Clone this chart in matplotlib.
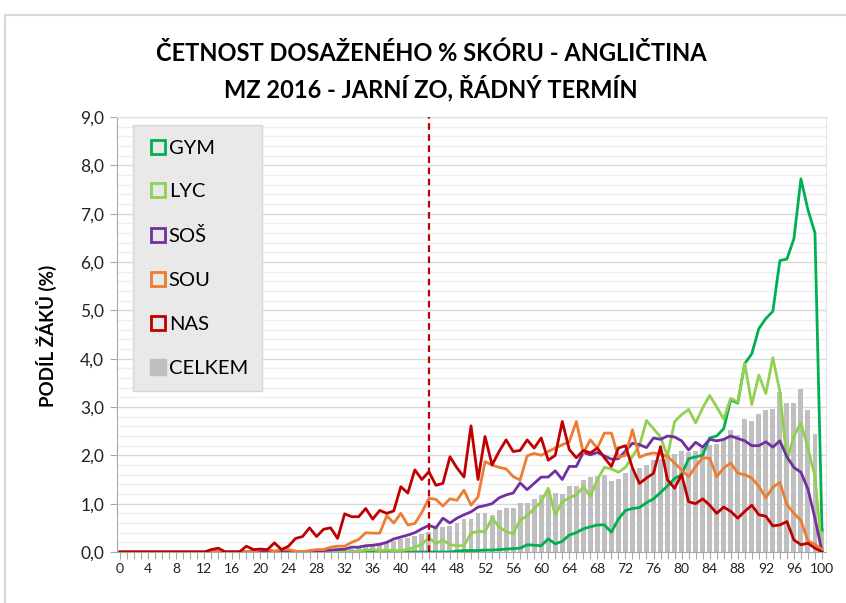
import numpy as np
from matplotlib import pyplot as plt
from matplotlib.lines import Line2D
from matplotlib.patches import Rectangle
from matplotlib.ticker import FuncFormatter, MultipleLocator

plt.rcParams['font.family'] = ['Lato', 'DejaVu Sans']

# skóre v % (0..100)
skore = list(range(0, 101))

# podíl žáků v % pro jednotlivé typy škol
gym = [0] * 48 + [
    0.02, 0.03, 0.03, 0.03, 0.04, 0.04, 0.05, 0.06, 0.07, 0.08,
    0.15, 0.14, 0.13, 0.27, 0.17, 0.22, 0.35, 0.40, 0.48, 0.52,
    0.56, 0.56, 0.41, 0.68, 0.86, 0.90, 0.92, 1.02, 1.10, 1.23,
    1.37, 1.52, 1.60, 1.93, 1.97, 2.00, 2.36, 2.40, 2.55, 3.15,
    3.08, 3.90, 4.10, 4.62, 4.83, 4.98, 6.03, 6.06, 6.48, 7.72,
    7.08, 6.60, 0.45]
lyc = [0] * 34 + [
    0.02, 0.04, 0.05, 0.03, 0.04, 0.03, 0.03, 0.05, 0.10, 0.16,
    0.30, 0.17, 0.25, 0.15, 0.13, 0.13, 0.39, 0.43, 0.42, 0.70,
    0.52, 0.42, 0.38, 0.66, 0.75, 0.90, 1.04, 1.32, 0.76, 1.04,
    1.12, 1.18, 1.35, 1.15, 1.50, 1.75, 1.72, 1.65, 1.75, 1.98,
    2.20, 2.72, 2.55, 2.38, 1.98, 2.70, 2.84, 2.95, 2.67, 2.98,
    3.24, 3.00, 2.75, 3.18, 3.10, 3.90, 3.05, 3.66, 3.28, 4.02,
    3.32, 1.88, 2.40, 2.67, 2.15, 1.56, 0.00]
sos = [0] * 28 + [
    0.02, 0.03, 0.04, 0.05, 0.06, 0.10, 0.10, 0.13, 0.14, 0.16,
    0.20, 0.27, 0.31, 0.35, 0.40, 0.48, 0.55, 0.50, 0.70, 0.60,
    0.70, 0.77, 0.83, 0.93, 0.96, 1.00, 1.12, 1.18, 1.22, 1.43,
    1.29, 1.42, 1.55, 1.55, 1.68, 1.50, 1.77, 1.77, 2.06, 2.01,
    2.06, 1.99, 1.92, 1.93, 2.09, 2.25, 2.22, 2.16, 2.36, 2.33,
    2.40, 2.38, 2.30, 2.11, 2.27, 2.17, 2.33, 2.30, 2.33, 2.40,
    2.35, 2.30, 2.20, 2.20, 2.28, 2.17, 2.30, 1.97, 1.75, 1.65,
    1.30, 0.70, 0.00]
sou = [0] * 20 + [
    0.05, 0.05, 0.02, 0.05, 0.05, 0.02, 0.00, 0.03, 0.05, 0.05,
    0.10, 0.12, 0.12, 0.20, 0.26, 0.40, 0.39, 0.39, 0.75, 0.60,
    0.80, 0.56, 0.59, 0.82, 1.11, 1.09, 0.95, 1.10, 1.07, 1.28,
    0.97, 1.14, 1.87, 1.80, 1.75, 1.72, 1.56, 1.49, 1.99, 2.04,
    2.00, 2.08, 2.15, 2.22, 2.28, 2.70, 2.05, 2.32, 2.15, 2.46,
    2.46, 1.96, 2.00, 2.53, 1.96, 2.02, 2.05, 2.02, 1.98, 1.84,
    1.70, 1.56, 1.77, 1.95, 1.94, 1.56, 1.74, 1.84, 1.63, 1.60,
    1.53, 1.36, 1.12, 1.34, 1.44, 0.98, 0.80, 0.65, 0.23, 0.16,
    0.05]
nas = [0] * 13 + [
    0.05, 0.08, 0.00, 0.00, 0.00, 0.12, 0.05, 0.06, 0.05, 0.19,
    0.05, 0.12, 0.28, 0.32, 0.50, 0.32, 0.47, 0.50, 0.28, 0.79,
    0.73, 0.73, 0.90, 0.68, 0.86, 0.80, 0.85, 1.35, 1.22, 1.70,
    1.50, 1.66, 1.38, 1.42, 1.97, 1.74, 1.55, 2.61, 1.50, 2.39,
    1.80, 2.08, 2.32, 2.08, 2.10, 2.32, 2.15, 2.36, 1.90, 2.00,
    2.70, 2.12, 1.95, 2.10, 2.05, 2.15, 1.95, 1.77, 2.15, 2.20,
    1.74, 1.42, 1.53, 1.63, 2.18, 1.49, 1.32, 1.60, 1.04, 1.00,
    1.10, 0.97, 0.80, 0.93, 0.84, 0.70, 0.84, 0.97, 0.77, 0.74,
    0.54, 0.56, 0.63, 0.25, 0.15, 0.18, 0.08, 0.00]
celkem = [0] * 30 + [
    0.02, 0.03, 0.04, 0.06, 0.08, 0.10, 0.13, 0.15, 0.19, 0.22,
    0.26, 0.29, 0.33, 0.38, 0.42, 0.54, 0.52, 0.53, 0.60, 0.68,
    0.68, 0.80, 0.80, 0.77, 0.87, 0.92, 0.91, 1.01, 1.01, 1.09,
    1.18, 1.28, 1.23, 1.20, 1.36, 1.36, 1.50, 1.55, 1.58, 1.60,
    1.47, 1.52, 1.64, 1.72, 1.74, 1.80, 1.90, 1.92, 2.00, 2.02,
    2.08, 2.06, 2.10, 2.15, 2.22, 2.24, 2.33, 2.53, 2.42, 2.75,
    2.72, 2.86, 2.93, 2.96, 3.32, 3.08, 3.08, 3.37, 2.94, 2.45,
    0.50]
hranice = 44  # hranice úspěšnosti

serie = [
    ('GYM', gym, '#00B050'),
    ('LYC', lyc, '#92D050'),
    ('SOŠ', sos, '#7030A0'),
    ('SOU', sou, '#ED7D31'),
    ('NAS', nas, '#C00000'),
]

W, H = 846, 603
fig = plt.figure(figsize=(W / 100, H / 100), dpi=100)
ax = fig.add_axes([116.5 / W, 1 - 552 / H, 709 / W, 435 / H])

# rámeček grafu
fig.patches.append(Rectangle((5 / W, -0.1), 1.2, 1 - 15 / H + 0.1,
                             transform=fig.transFigure, fill=False,
                             edgecolor='#D9D9D9', lw=1.5))

ax.bar(skore, celkem, width=0.7, color='#BFBFBF', zorder=2)
for nazev, data, barva in serie:
    ax.plot(skore, data, color=barva, lw=2, zorder=3, solid_joinstyle='round')

ax.axvline(hranice, color='#C00000', lw=1.6, ls=(0, (3, 2)), zorder=4)

ax.set_xlim(-0.5, 100.5)
ax.set_ylim(0, 9)

# osa Y
ax.yaxis.set_major_locator(MultipleLocator(1))
ax.yaxis.set_minor_locator(MultipleLocator(0.2))
ax.yaxis.set_major_formatter(FuncFormatter(lambda v, p: f'{v:.1f}'.replace('.', ',')))
ax.grid(which='major', axis='y', color='#D9D9D9', lw=1, zorder=0)
ax.grid(which='minor', axis='y', color='#EFEFEF', lw=1, zorder=0)
ax.set_axisbelow(True)
ax.tick_params(axis='y', which='major', length=5, color='#A6A6A6',
               labelsize=12.5, labelcolor='#222222', pad=4)
ax.tick_params(axis='y', which='minor', length=0)

# osa X
ax.set_xticks(skore)
ax.set_xticklabels([str(s) if s % 4 == 0 else '' for s in skore])
ax.tick_params(axis='x', length=5, color='#A6A6A6', labelsize=10,
               labelcolor='#222222', pad=3)

for s in ['left', 'bottom']:
    ax.spines[s].set_color('#A6A6A6')
for s in ['top', 'right']:
    ax.spines[s].set_color('#E3E3E3')

fig.text(431 / W, 1 - 53 / H, 'ČETNOST DOSAŽENÉHO % SKÓRU - ANGLIČTINA',
         ha='center', va='center', fontsize=17, fontweight='bold')
fig.text(431 / W, 1 - 88 / H, 'MZ 2016 - JARNÍ ZO, ŘÁDNÝ TERMÍN',
         ha='center', va='center', fontsize=17, fontweight='bold')
fig.text(46 / W, 1 - 336 / H, 'PODÍL ŽÁKŮ (%)', rotation=90,
         ha='center', va='center', fontsize=13.5, fontweight='bold')

# legenda
handles = [Line2D([], [], ls='none', marker='s', markersize=10,
                  markerfacecolor='none', markeredgecolor=b, markeredgewidth=2)
           for _, _, b in serie]
handles.append(Line2D([], [], ls='none', marker='s', markersize=11,
                      markerfacecolor='#BFBFBF', markeredgecolor='#BFBFBF'))
labels = [n for n, _, _ in serie] + ['CELKEM']
leg = ax.legend(handles, labels, loc='upper left',
                bbox_to_anchor=((133 - 116.5) / 709, 1 - 8 / 435),
                borderaxespad=0, fontsize=14.5, labelspacing=1.33,
                handletextpad=0.05, handlelength=1.0, borderpad=0.72,
                fancybox=False, framealpha=1, facecolor='#E9E9E9',
                edgecolor='#D6D6D6')
leg.set_zorder(5)

plt.savefig('out.png', dpi=100)
